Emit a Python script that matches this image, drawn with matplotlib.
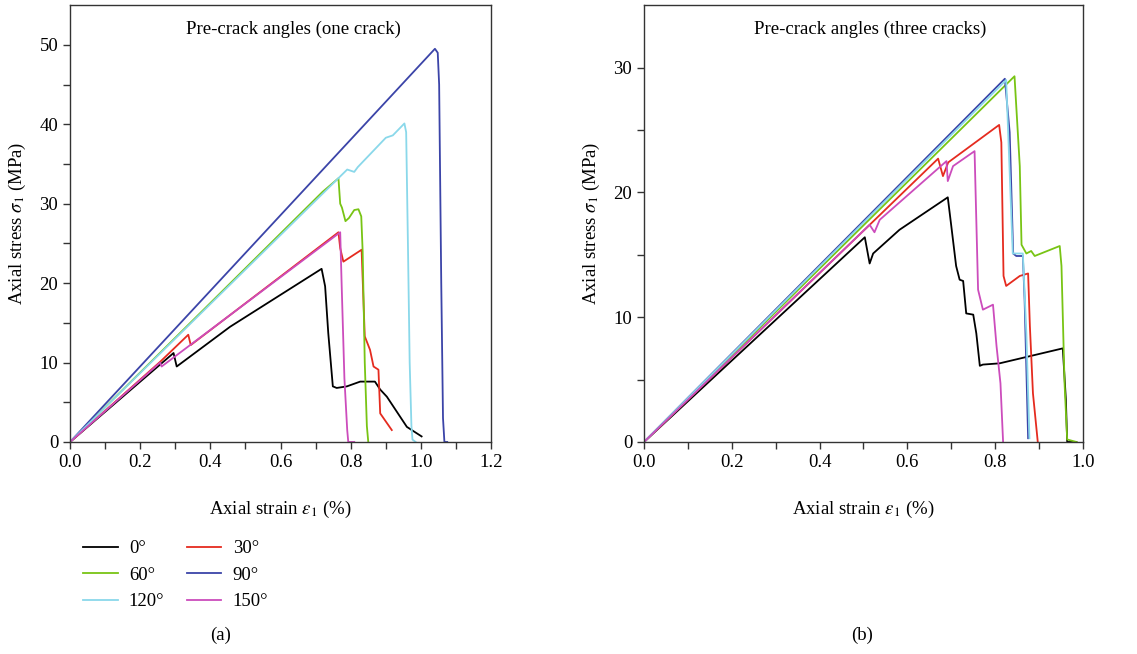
import matplotlib
matplotlib.use("Agg")
import matplotlib.pyplot as plt
from matplotlib.lines import Line2D

plt.rcParams['font.family'] = ['Liberation Serif', 'DejaVu Serif']
plt.rcParams['mathtext.fontset'] = 'stix'
plt.rcParams['font.size'] = 13.5

labels = ["0°", "30°", "60°", "90°", "120°", "150°"]
colors = ["#000000", "#e52b1f", "#78c414", "#3b44a8", "#8ad8ea", "#cc4cbc"]

# (a) one crack: strain (%), stress (MPa)
a_x = {
    "0°": [0, 0.295, 0.304, 0.456, 0.717, 0.727, 0.736, 0.749, 0.76, 0.789, 0.827, 0.869, 0.884, 0.903, 0.96, 1.002],
    "30°": [0, 0.257, 0.337, 0.344, 0.765, 0.77, 0.779, 0.831, 0.84, 0.855, 0.865, 0.879, 0.884, 0.917],
    "60°": [0, 0.72, 0.765, 0.77, 0.775, 0.785, 0.795, 0.81, 0.822, 0.83, 0.834, 0.84, 0.846, 0.85],
    "90°": [0, 1.04, 1.048, 1.052, 1.058, 1.063, 1.067, 1.075],
    "120°": [0, 0.79, 0.81, 0.82, 0.9, 0.92, 0.953, 0.958, 0.963, 0.968, 0.973, 0.976, 0.985],
    "150°": [0, 0.257, 0.261, 0.77, 0.774, 0.782, 0.79, 0.793, 0.81],
}
a_y = {
    "0°": [0, 11.2, 9.5, 14.5, 21.8, 19.6, 13.7, 7.0, 6.8, 7.0, 7.6, 7.6, 6.6, 5.7, 1.9, 0.7],
    "30°": [0, 10.1, 13.5, 12.2, 26.4, 24.4, 22.7, 24.2, 13.3, 11.6, 9.5, 9.1, 3.6, 1.5],
    "60°": [0, 31.5, 33.2, 30.0, 29.5, 27.8, 28.2, 29.2, 29.3, 28.4, 24.0, 10.0, 2.0, 0],
    "90°": [0, 49.5, 49.0, 45.0, 20.0, 3.0, 0, 0],
    "120°": [0, 34.3, 34.0, 34.6, 38.3, 38.6, 40.1, 39.0, 25.0, 10.0, 2.0, 0.3, 0],
    "150°": [0, 10.0, 9.5, 26.4, 20.0, 8.0, 1.5, 0, 0],
}

# (b) three cracks
b_x = {
    "0°": [0, 0.503, 0.514, 0.522, 0.582, 0.692, 0.7, 0.711, 0.719, 0.727, 0.734, 0.75, 0.757, 0.765, 0.772, 0.81, 0.954, 0.961, 0.964, 0.985],
    "30°": [0, 0.52, 0.67, 0.681, 0.693, 0.809, 0.814, 0.819, 0.825, 0.856, 0.875, 0.879, 0.886, 0.897],
    "60°": [0, 0.844, 0.856, 0.86, 0.871, 0.882, 0.89, 0.947, 0.951, 0.958, 0.964, 0.985],
    "90°": [0, 0.822, 0.833, 0.841, 0.848, 0.863, 0.867, 0.875],
    "120°": [0, 0.825, 0.84, 0.863, 0.871, 0.878],
    "150°": [0, 0.514, 0.525, 0.537, 0.689, 0.692, 0.704, 0.753, 0.761, 0.772, 0.795, 0.803, 0.812, 0.818],
}
b_y = {
    "0°": [0, 16.4, 14.3, 15.1, 17.0, 19.6, 17.3, 14.1, 13.0, 12.9, 10.3, 10.2, 8.7, 6.1, 6.2, 6.3, 7.5, 3.4, 0, 0],
    "30°": [0, 17.6, 22.7, 21.3, 22.4, 25.4, 24.0, 13.3, 12.5, 13.3, 13.5, 9.3, 3.9, 0],
    "60°": [0, 29.3, 22.1, 15.8, 15.1, 15.3, 14.9, 15.7, 14.1, 4.7, 0.2, 0],
    "90°": [0, 29.1, 24.8, 15.1, 14.9, 14.9, 11.4, 0.3],
    "120°": [0, 29.0, 15.1, 15.1, 8.7, 0.3],
    "150°": [0, 17.4, 16.8, 17.8, 22.5, 20.9, 22.1, 23.3, 12.2, 10.6, 11.0, 7.7, 4.7, 0],
}

fig = plt.figure(figsize=(11.37, 6.54), dpi=100)
ax1 = fig.add_axes([0.0616, 0.3242, 0.3703, 0.668])
ax2 = fig.add_axes([0.5664, 0.3242, 0.3861, 0.668])

for ax, xs, ys, xmax, ymax, ttl, tx in [
    (ax1, a_x, a_y, 1.2, 55, "Pre-crack angles (one crack)", 0.53),
    (ax2, b_x, b_y, 1.0, 35, "Pre-crack angles (three cracks)", 0.515),
]:
    for lab, c in zip(labels, colors):
        ax.plot(xs[lab], ys[lab], color=c, lw=1.3)
    ax.set_xlim(0, xmax)
    ax.set_ylim(0, ymax)
    ax.set_xticks([i * 0.2 for i in range(int(round(xmax / 0.2)) + 1)])
    ax.set_xticks([i * 0.1 for i in range(int(round(xmax / 0.1)) + 1)], minor=True)
    ax.set_yticks(range(0, ymax, 10))
    ax.set_yticks(range(0, ymax, 5), minor=True)
    ax.xaxis.set_major_formatter(matplotlib.ticker.FormatStrFormatter('%.1f'))
    ax.tick_params(which='both', direction='out', length=5, width=1, color='#333333')
    for s in ax.spines.values():
        s.set_linewidth(1.0)
        s.set_color('#333333')
    ax.set_xlabel(r"Axial strain $\varepsilon_1$ (%)", labelpad=20)
    ax.set_ylabel(r"Axial stress $\sigma_1$ (MPa)", labelpad=8)
    ax.text(tx, 0.945, ttl, transform=ax.transAxes, ha='center', va='center')

# legend fills column-major, so order handles to read row by row
order = [0, 2, 4, 1, 3, 5]
handles = [Line2D([], [], color=colors[i], lw=1.3) for i in order]
fig.legend(handles, [labels[i] for i in order], ncol=2, loc='upper left',
           bbox_to_anchor=(0.058, 0.2), frameon=False, handlelength=1.85,
           handletextpad=0.6, columnspacing=1.2, labelspacing=0.5, fontsize=13.5)

fig.text(0.194, 0.029, "(a)", ha='center', va='center')
fig.text(0.758, 0.029, "(b)", ha='center', va='center')

plt.savefig("out.png", dpi=100)
